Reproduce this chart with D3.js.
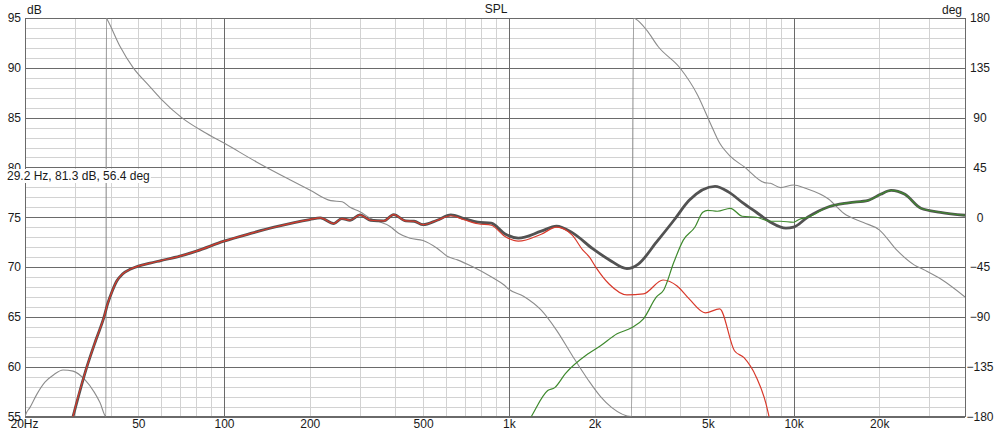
<!DOCTYPE html>
<html><head><meta charset="utf-8">
<script src="https://cdn.jsdelivr.net/npm/d3@7/dist/d3.min.js"></script>
<style>
html,body{margin:0;padding:0;background:#fff;}
svg text{font-family:"Liberation Sans",Arial,sans-serif;font-size:12px;fill:#1a1a1a;}
</style></head><body>
<svg id="chart" width="998" height="434"></svg>
<script>
// ---- data ----
const xTickValues = [20, 50, 100, 200, 500, 1000, 2000, 5000, 10000, 20000];
const xTickLabels = ["20Hz", "50", "100", "200", "500", "1k", "2k", "5k", "10k", "20k"];
const dbTicks = [55, 60, 65, 70, 75, 80, 85, 90, 95];
const degTicks = [-180, -135, -90, -45, 0, 45, 90, 135, 180];

const totalFreq = [29.5, 33, 35.5, 37.9, 39, 40.5, 42, 44, 47, 50, 55, 60, 70, 80, 100, 125, 150, 200, 218, 243, 259, 277, 300, 327, 364, 394, 435, 465, 500, 560, 626, 697, 778, 868, 967, 1080, 1300, 1470, 1670, 1970, 2250, 2600, 2850, 3300, 3800, 4300, 5300, 5900, 6600, 7400, 8300, 9400, 10000, 11200, 13300, 15600, 18300, 20200, 22000, 24600, 28000, 32800, 40000];
const totalDb   = [55, 60, 62.7, 65, 66.3, 67.6, 68.6, 69.3, 69.8, 70.1, 70.4, 70.65, 71.1, 71.6, 72.6, 73.4, 74.0, 74.77, 74.93, 74.37, 74.87, 74.7, 75.23, 74.7, 74.63, 75.27, 74.63, 74.6, 74.26, 74.7, 75.23, 74.87, 74.5, 74.4, 73.35, 72.9, 73.6, 74.1, 73.46, 71.85, 70.74, 69.84, 70.3, 72.5, 74.7, 76.7, 78.1, 77.55, 76.5, 75.5, 74.5, 73.9, 74.0, 75.0, 76.05, 76.45, 76.7, 77.3, 77.7, 77.3, 75.9, 75.5, 75.2];

const wooferFreq = [28.5, 29.5, 33, 35.5, 37.9, 39, 40.5, 42, 44, 47, 50, 55, 60, 70, 80, 100, 125, 150, 200, 218, 243, 259, 277, 300, 327, 364, 394, 435, 465, 500, 560, 626, 697, 778, 868, 967, 1080, 1300, 1470, 1670, 1820, 1920, 2020, 2250, 2600, 2970, 3480, 3900, 4300, 4900, 5500, 6200, 6700, 7400, 8000, 8200, 8500];
const wooferDb   = [53, 55, 60, 62.7, 65, 66.3, 67.6, 68.6, 69.3, 69.8, 70.1, 70.4, 70.65, 71.1, 71.6, 72.6, 73.4, 74.0, 74.77, 74.93, 74.37, 74.87, 74.7, 75.23, 74.7, 74.63, 75.27, 74.63, 74.6, 74.26, 74.7, 75.15, 74.75, 74.35, 74.2, 73.1, 72.6, 73.3, 74.0, 73.2, 71.7, 71.0, 70.0, 68.3, 67.2, 67.3, 68.7, 68.1, 66.8, 65.4, 65.8, 61.6, 60.9, 58.95, 56.3, 55, 53];

const tweeterFreq = [1120, 1200, 1370, 1450, 1580, 1900, 2100, 2400, 2700, 2970, 3300, 3500, 3800, 4100, 4500, 4800, 5000, 5400, 6000, 6600, 7400, 8300, 9000, 10000, 10500, 11200, 13300, 15600, 18300, 20200, 22000, 24600, 28000, 32800, 40000];
const tweeterDb   = [53.5, 55, 57.6, 57.9, 59.3, 61.3, 62.1, 63.3, 63.9, 64.8, 67.0, 67.7, 70.5, 72.7, 74.0, 75.5, 75.7, 75.6, 75.9, 75.1, 75.0, 74.6, 74.6, 74.5, 74.8, 75.0, 76.05, 76.45, 76.7, 77.3, 77.7, 77.3, 75.9, 75.5, 75.2];

const phaseFreq = [20, 20.2, 20.8, 22, 23.5, 25.3, 27.2, 29.5, 32.5, 35, 36.7, 38.5, 38.6, 39, 43, 48, 54, 60, 71, 85, 100, 130, 171, 200, 237, 260, 277, 300, 327, 383, 410, 450, 500, 560, 610, 660, 750, 870, 960, 1000, 1130, 1300, 1470, 1680, 1900, 2100, 2300, 2700, 2740, 2800, 3050, 3350, 4000, 4600, 5100, 5500, 6000, 6700, 7900, 8300, 9000, 10000, 11000, 13300, 15000, 17600, 20000, 23000, 26500, 29000, 33000, 40000];
const phaseDeg  = [-180, -177, -172, -160, -149, -142, -138, -139, -147, -158, -167.6, -180, 180, 178, 155, 135, 120, 107, 90, 77, 67, 50, 33.7, 24.7, 15, 14, 9, 5, -1, -8.4, -14.4, -19, -21, -28, -35.5, -38.5, -45, -54, -61, -65, -71.6, -84, -102, -126, -147, -162, -172, -180, 180, 178.8, 169, 154, 134.6, 110.5, 85, 67, 55, 45.7, 31.3, 30.7, 26.8, 29.2, 26.2, 16.3, 3.6, -4.8, -11.4, -29.5, -43, -48, -56, -72];

const cursorText = "29.2 Hz, 81.3 dB, 56.4 deg";

// ---- layout ----
const L = 25, R = 965, T = 18, B = 416.5;
const svg = d3.select("#chart");
const x = d3.scaleLog().domain([20, 40000]).range([L, R]);
const y = d3.scaleLinear().domain([55, 95]).range([B, T]);
const yp = d3.scaleLinear().domain([-180, 180]).range([B, T]);

const minorX = [];
[10, 100, 1000, 10000].forEach(d => { for (let k = 2; k <= 9; k++) { const v = d * k; if (v > 20 && v < 40000) minorX.push(v); } });
const minorY = d3.range(55, 96, 1).filter(v => v % 5 !== 0);
const majorX = [100, 1000, 10000];

const grid = svg.append("g");
grid.append("g").attr("transform", `translate(0,${B})`)
  .call(d3.axisBottom(x).tickValues(minorX).tickSize(-(B - T)).tickFormat(""))
  .call(g => g.select(".domain").remove())
  .call(g => g.selectAll("line").attr("stroke", "#d2d2d2").attr("shape-rendering", "crispEdges"));
grid.append("g").attr("transform", `translate(${L},0)`)
  .call(d3.axisLeft(y).tickValues(minorY).tickSize(-(R - L)).tickFormat(""))
  .call(g => g.select(".domain").remove())
  .call(g => g.selectAll("line").attr("stroke", "#d2d2d2").attr("shape-rendering", "crispEdges"));
grid.append("g").attr("transform", `translate(0,${B})`)
  .call(d3.axisBottom(x).tickValues(majorX).tickSize(-(B - T)).tickFormat(""))
  .call(g => g.select(".domain").remove())
  .call(g => g.selectAll("line").attr("stroke", "#6a6a6a").attr("shape-rendering", "crispEdges"));
grid.append("g").attr("transform", `translate(${L},0)`)
  .call(d3.axisLeft(y).tickValues(dbTicks).tickSize(-(R - L)).tickFormat(""))
  .call(g => g.select(".domain").remove())
  .call(g => g.selectAll("line").attr("stroke", "#6a6a6a").attr("shape-rendering", "crispEdges"));
svg.append("rect").attr("x", L).attr("y", T).attr("width", R - L).attr("height", B - T)
  .attr("fill", "none").attr("stroke", "#6a6a6a").attr("shape-rendering", "crispEdges");

svg.append("defs").append("clipPath").attr("id", "clip")
  .append("rect").attr("x", L).attr("y", T).attr("width", R - L).attr("height", B - T);
const plot = svg.append("g").attr("clip-path", "url(#clip)");

const zip = (f, v) => f.map((d, i) => [d, v[i]]);
const lineDb = d3.line().x(d => x(d[0])).y(d => y(d[1])).curve(d3.curveMonotoneX);
const linePh = d3.line().x(d => x(d[0])).y(d => yp(d[1])).curve(d3.curveMonotoneX);

plot.append("path").attr("d", linePh(zip(phaseFreq, phaseDeg)))
  .attr("fill", "none").attr("stroke", "#8c8c8c").attr("stroke-width", 1.1);
plot.append("path").attr("d", lineDb(zip(totalFreq, totalDb)))
  .attr("fill", "none").attr("stroke", "#525252").attr("stroke-width", 2.8);
plot.append("path").attr("d", lineDb(zip(wooferFreq, wooferDb)))
  .attr("fill", "none").attr("stroke", "#d8392b").attr("stroke-width", 1.2);
plot.append("path").attr("d", lineDb(zip(tweeterFreq, tweeterDb)))
  .attr("fill", "none").attr("stroke", "#3f8a2e").attr("stroke-width", 1.2);

const axB = svg.append("g").attr("transform", `translate(0,${B})`)
  .call(d3.axisBottom(x).tickValues(xTickValues).tickSize(0).tickPadding(3).tickFormat((d, i) => xTickLabels[i]));
axB.select(".domain").remove();
axB.selectAll("text").attr("font-size", 12).attr("font-family", "Liberation Sans, Arial, sans-serif").attr("fill", "#1a1a1a");
axB.selectAll(".tick").filter(d => d === 20).select("text").attr("dx", -1);

const axL = svg.append("g").attr("transform", `translate(${L - 4},0)`)
  .call(d3.axisLeft(y).tickValues(dbTicks).tickSize(0).tickPadding(0));
axL.select(".domain").remove();
axL.selectAll("text").attr("font-size", 12).attr("font-family", "Liberation Sans, Arial, sans-serif").attr("fill", "#1a1a1a");

const axR = svg.append("g").attr("transform", `translate(980,0)`)
  .call(d3.axisRight(yp).tickValues(degTicks).tickSize(0).tickPadding(0));
axR.select(".domain").remove();
axR.selectAll("text").attr("text-anchor", "middle").attr("font-size", 12).attr("font-family", "Liberation Sans, Arial, sans-serif").attr("fill", "#1a1a1a");

svg.append("text").attr("x", (L + R) / 2 + 1).attr("y", 13).attr("text-anchor", "middle").text("SPL");
svg.append("text").attr("x", 27).attr("y", 14).text("dB");
svg.append("text").attr("x", 962).attr("y", 14).attr("text-anchor", "end").text("deg");

// cursor readout with white backing
const cg = svg.append("g");
const ct = cg.append("text").attr("x", 7).attr("y", 180).text(cursorText);
const bb = ct.node().getBBox();
cg.insert("rect", ":first-child").attr("x", bb.x - 1).attr("y", bb.y).attr("width", bb.width + 2).attr("height", bb.height).attr("fill", "#fff");
</script>
</body></html>
